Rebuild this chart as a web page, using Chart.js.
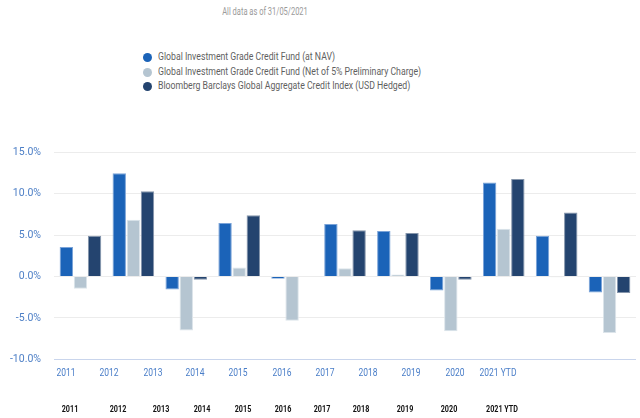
<!DOCTYPE html>
<html>
<head>
<meta charset="utf-8">
<script src="https://cdn.jsdelivr.net/npm/chart.js@4"></script>
<style>
  body { margin: 0; background: #fff; font-family: Roboto, sans-serif; }
  #wrap { position: relative; width: 640px; height: 418px; overflow: hidden; }
  .t { position: absolute; white-space: nowrap; }
  #title { left: 265px; top: 6px; font-size: 10px; color: #9a9a9a; transform: translateX(-50%) scaleX(0.75); }
  #legend { position: absolute; left: 143px; top: 50px; }
  .li { position: relative; height: 14.5px; font-size: 10.5px; color: #5f5f5f; }
  .li i { position: absolute; left: 0; top: 3px; width: 9px; height: 9px; border-radius: 50%; }
  .li span { position: absolute; left: 15px; top: 0; white-space: nowrap; transform: scaleX(0.83); transform-origin: left center; }
  .xl { top: 367px; font-size: 10px; color: #4a7ec8; transform: translateX(-50%) scaleX(0.85); }
  .bl { top: 404px; font-size: 9px; font-weight: bold; color: #111; transform: translateX(-50%) scaleX(0.8); }
  #box { position: absolute; left: 0; top: 132.7px; width: 640px; height: 245.6px; }
</style>
</head>
<body>
<div id="wrap">
  <div id="title" class="t">All data as of 31/05/2021</div>
  <div id="legend"></div>
  <div id="box"><canvas id="myChart"></canvas></div>
</div>
<script>
var years = ['2011', '2012', '2013', '2014', '2015', '2016', '2017', '2018', '2019', '2020', '2021 YTD'];
var fundNav = [3.57, 12.46, -1.56, 6.45, -0.28, 6.33, 5.49, -1.68, 11.34, 4.93, -1.92];
var fundNet = [-1.48, 6.85, -6.53, 1.08, -5.33, 1.0, 0.24, -6.61, 5.77, -0.1, -6.81];
var indexRet = [4.93, 10.3, -0.4, 7.41, 0.0, 5.6, 5.25, -0.4, 11.78, 7.73, -2.0];
var yTicks = [-10, -5, 0, 5, 10, 15];

// where the two rows of year labels sit (they do not line up with the bars)
var blueLabelX = [65.5, 108.7, 152.5, 195.3, 238.3, 281.7, 324.7, 368, 411, 454.5, 498];
var blackLabelX = [70.3, 117.5, 161.3, 202, 242.5, 282.7, 321.7, 361.3, 405.3, 449.3, 502.3];

var wrap = document.getElementById('wrap');
years.forEach(function (y, i) {
  var a = document.createElement('div');
  a.className = 't xl';
  a.style.left = blueLabelX[i] + 'px';
  a.textContent = y;
  wrap.appendChild(a);
  var b = document.createElement('div');
  b.className = 't bl';
  b.style.left = blackLabelX[i] + 'px';
  b.textContent = y;
  wrap.appendChild(b);
});

var data = {
  labels: years,
  datasets: [{
    label: 'Global Investment Grade Credit Fund (at NAV)',
    data: fundNav,
    backgroundColor: '#1b63b8',
    borderColor: '#7aa3d8',
    borderWidth: 1
  }, {
    label: 'Global Investment Grade Credit Fund (Net of 5% Preliminary Charge)',
    data: fundNet,
    backgroundColor: '#b5c5d1',
    borderColor: '#dce4ea',
    borderWidth: 1
  }, {
    label: 'Bloomberg Barclays Global Aggregate Credit Index (USD Hedged)',
    data: indexRet,
    backgroundColor: '#24446f',
    borderColor: '#8595ab',
    borderWidth: 1
  }]
};

const config = {
  type: 'bar',
  data: data,
  options: {
    responsive: true,
    maintainAspectRatio: false,
    animation: false,
    layout: { padding: { top: 12, right: 4, bottom: 11, left: 0 } },
    datasets: { bar: { categoryPercentage: 0.8, barPercentage: 0.95 } },
    plugins: { legend: { display: false }, tooltip: { enabled: false } },
    scales: {
      x: { display: false },
      y: {
        min: yTicks[0],
        max: yTicks[yTicks.length - 1],
        afterFit: function (scale) { scale.width = 54; },
        border: { display: false },
        grid: {
          drawTicks: false,
          color: function (c) { return c.tick && c.tick.value === yTicks[0] ? '#c9d5ec' : '#ececec'; }
        },
        ticks: {
          stepSize: 5,
          padding: 13,
          color: '#4d7fc6',
          font: { family: 'Roboto', size: 10.5 },
          callback: function (v) { return v.toFixed(1) + '%'; }
        }
      }
    }
  }
};

var ctx = document.getElementById('myChart').getContext('2d');
var chart = new Chart(ctx, config);

var legend = document.getElementById('legend');
chart.data.datasets.forEach(function (ds) {
  var row = document.createElement('div');
  row.className = 'li';
  row.innerHTML = '<i style="background:' + ds.backgroundColor + '"></i><span></span>';
  row.querySelector('span').textContent = ds.label;
  legend.appendChild(row);
});
</script>
</body>
</html>
